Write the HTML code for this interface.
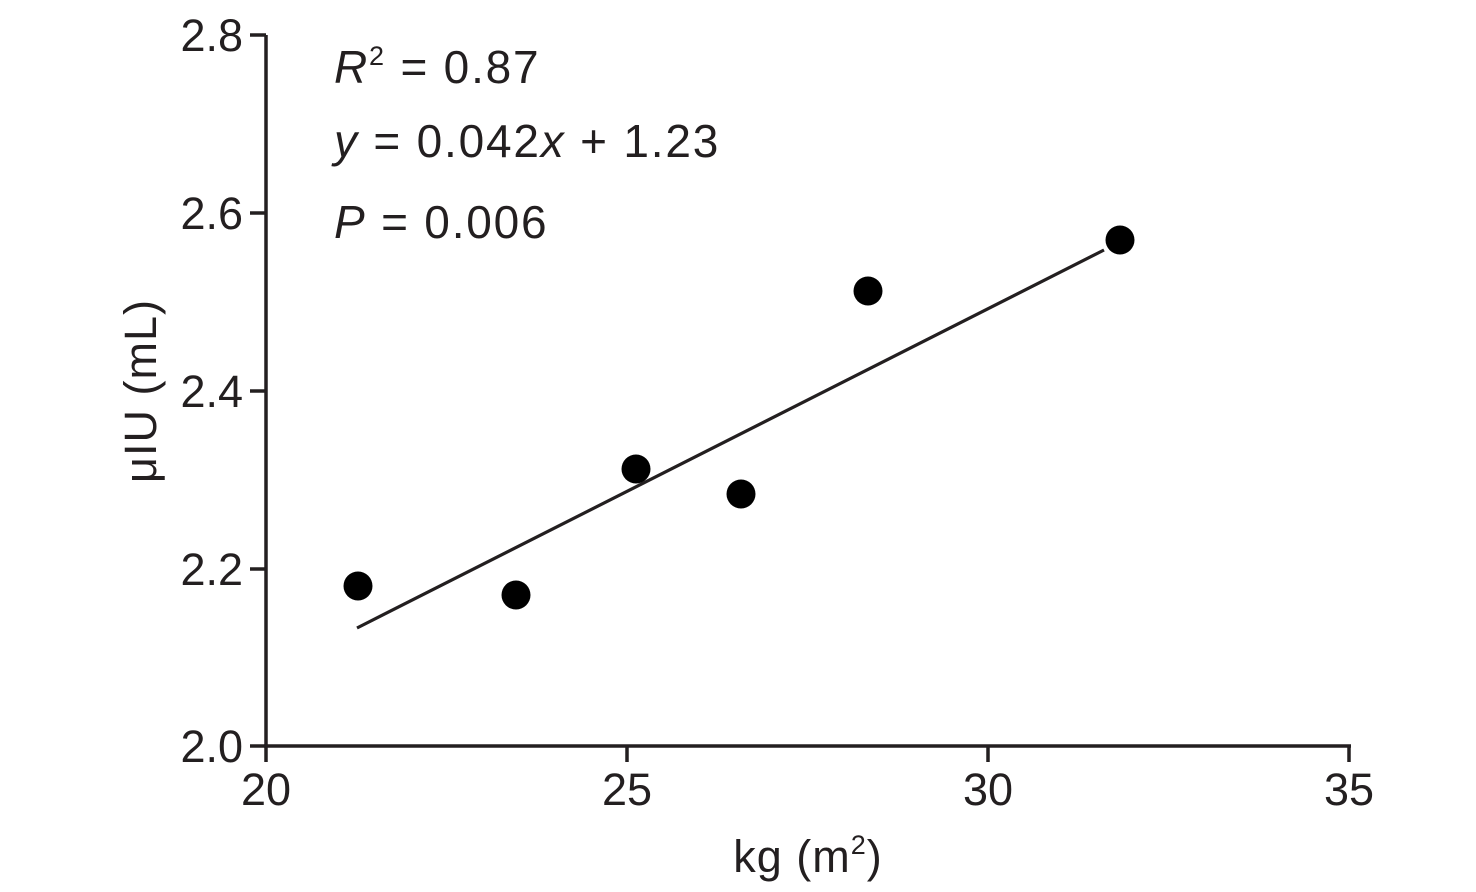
<!DOCTYPE html>
<html><head><style>
html,body{margin:0;padding:0;background:#fff;}
svg{display:block;}
text{font-family:"Liberation Sans",sans-serif;fill:#231f20;}
</style></head><body>
<svg width="1476" height="892" viewBox="0 0 1476 892" xmlns="http://www.w3.org/2000/svg">
<g stroke="#231f20" stroke-width="3.5" fill="none">
<line x1="266" y1="35" x2="266" y2="747"/>
<line x1="264" y1="746" x2="1351" y2="746"/>
<line x1="250" y1="35" x2="266" y2="35"/>
<line x1="250" y1="213" x2="266" y2="213"/>
<line x1="250" y1="391" x2="266" y2="391"/>
<line x1="250" y1="569" x2="266" y2="569"/>
<line x1="250" y1="746" x2="266" y2="746"/>
<line x1="266" y1="746" x2="266" y2="762"/>
<line x1="627" y1="746" x2="627" y2="762"/>
<line x1="988" y1="746" x2="988" y2="762"/>
<line x1="1349" y1="746" x2="1349" y2="762"/>
<line x1="357" y1="628" x2="1104" y2="250" stroke-width="3.2"/>
</g>
<g font-size="45" text-anchor="end">
<text x="243" y="51">2.8</text>
<text x="243" y="229">2.6</text>
<text x="243" y="407">2.4</text>
<text x="243" y="585">2.2</text>
<text x="243" y="762">2.0</text>
</g>
<g font-size="45" text-anchor="middle">
<text x="266" y="805">20</text>
<text x="627" y="805">25</text>
<text x="988" y="805">30</text>
<text x="1349" y="805">35</text>
<text x="808" y="872" letter-spacing="1">kg (m<tspan font-size="27" dy="-18">2</tspan><tspan dy="18">)</tspan></text>
</g>
<text font-size="45" text-anchor="middle" letter-spacing="1" transform="translate(156,391) rotate(-90)">μIU (mL)</text>
<g font-size="46" letter-spacing="1.8">
<text x="334" y="83"><tspan font-style="italic">R</tspan><tspan font-size="27" dy="-18">2</tspan><tspan dy="18"> = 0.87</tspan></text>
<text x="334" y="157"><tspan font-style="italic">y</tspan> = 0.042<tspan font-style="italic">x</tspan> + 1.23</text>
<text x="334" y="238"><tspan font-style="italic">P</tspan> = 0.006</text>
</g>
<g fill="#000">
<circle cx="358" cy="586" r="14.5"/>
<circle cx="516" cy="595" r="14.5"/>
<circle cx="636" cy="469" r="14.5"/>
<circle cx="741" cy="494" r="14.5"/>
<circle cx="868" cy="291" r="14.5"/>
<circle cx="1120" cy="240" r="14.5"/>
</g>
</svg>
</body></html>
